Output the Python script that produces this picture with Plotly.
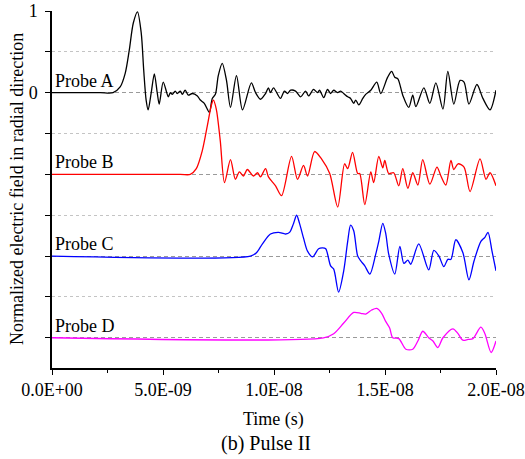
import plotly.graph_objects as go

# ---- data (time in ns, normalized field) ----
probe_a_t = [0, 2.17, 2.75, 3.07, 3.30, 3.48, 3.66, 3.85, 4.02, 4.13, 4.24, 4.33, 4.47, 4.61, 4.74, 4.83,
             5.01, 5.24, 5.33, 5.42, 5.55, 5.64, 5.78, 5.87, 6.00, 6.14, 6.32, 6.55, 6.68, 6.86, 7.09,
             7.22, 7.36, 7.49, 7.67, 7.86, 8.04, 8.31, 8.58, 8.98, 9.17, 9.39, 9.62, 9.75, 9.84, 9.98,
             10.29, 10.47, 10.61, 10.75, 10.97, 11.20, 11.42, 11.56, 11.78, 11.96, 12.05, 12.24, 12.41,
             12.55, 12.69, 12.87, 13.00, 13.14, 13.32, 13.45, 13.59, 13.68, 13.82, 14.00, 14.13, 14.36,
             14.63, 14.81, 15.12, 15.30, 15.44, 15.58, 15.80, 16.07, 16.25, 16.39, 16.75, 17.02, 17.29,
             17.61, 17.83, 18.10, 18.38, 18.56, 18.78, 19.14, 19.41, 19.73, 20.0]
probe_a_v = [0, 0, 0.0, 0.07, 0.24, 0.52, 0.85, 0.99, 0.73, 0.28, -0.09, -0.21, 0.0, 0.23, 0.0, -0.14,
             0.13, -0.05, 0.0, -0.02, 0.02, -0.01, 0.02, -0.02, 0.03, -0.03, -0.01, -0.04, -0.09, -0.13, -0.24,
             -0.07, -0.02, 0.21, 0.36, 0.15, -0.18, 0.21, -0.21, 0.12, 0.0, -0.08, -0.01, 0.06, 0.0, 0.06,
             -0.07, 0.02, -0.01, 0.03, 0.02, -0.05, 0.02, -0.04, 0.04, 0.0, 0.03, -0.06, 0.04,
             -0.01, 0.03, 0.0, 0.02, -0.01, -0.05, -0.07, -0.13, -0.09, -0.15, -0.07, -0.02, 0.03,
             0.13, -0.01, 0.19, 0.26, 0.19, 0.17, -0.03, -0.18, -0.03, -0.17, 0.06, -0.13, 0.12,
             -0.20, 0.26, -0.14, 0.15, 0.13, -0.14, 0.10, -0.07, -0.21, 0.03]

probe_b_t = [0, 5.78, 6.23, 6.50, 6.77, 7.00, 7.18, 7.27, 7.40, 7.58, 7.77, 8.04, 8.26, 8.44, 8.62, 8.80,
             9.07, 9.26, 9.39, 9.62, 9.75, 10.07, 10.34, 10.79, 11.06, 11.33, 11.51, 11.83, 12.14, 12.51,
             12.87, 13.18, 13.32, 13.54, 13.77, 13.86, 14.09, 14.36, 14.49, 14.72, 14.90, 14.99, 15.17,
             15.39, 15.62, 15.80, 16.03, 16.25, 16.48, 16.70, 17.02, 17.34, 17.52, 17.74, 17.97, 18.10,
             18.29, 18.56, 18.83, 19.28, 19.55, 19.73, 20.0]
probe_b_v = [0, 0, 0.0, 0.07, 0.29, 0.60, 0.85, 0.91, 0.80, 0.41, -0.10, 0.18, -0.06, 0.03, -0.02, 0.06,
             -0.02, 0.02, -0.03, 0.07, -0.03, -0.14, -0.26, 0.22, -0.06, 0.11, -0.02, 0.28, 0.19, 0.01,
             -0.40, 0.13, 0.07, 0.27, 0.01, 0.01, -0.37, 0.03, -0.10, 0.22, 0.08, 0.17, 0.01,
             0.02, -0.14, 0.07, -0.17, 0.02, -0.13, 0.18, -0.12, 0.09, -0.02, -0.13, 0.17, 0.06,
             0.13, 0.09, -0.21, 0.19, -0.06, 0.02, -0.14]

probe_c_t = [0, 8.94, 9.21, 9.48, 9.84, 10.20, 10.52, 10.70, 10.88, 11.02, 11.15, 11.33, 11.51, 11.74,
             12.01, 12.19, 12.33, 12.55, 12.69, 12.91, 13.14, 13.32, 13.45, 13.59, 13.77, 13.91, 14.09,
             14.32, 14.58, 14.72, 14.90, 15.03, 15.17, 15.44, 15.67, 15.85, 16.03, 16.16, 16.52, 16.97,
             17.20, 17.43, 17.65, 17.83, 17.97, 18.19, 18.51, 18.78, 19.01, 19.32, 19.50, 19.64, 19.82, 20.0]
probe_c_v = [0, 0, 0.04, 0.15, 0.27, 0.29, 0.27, 0.29, 0.40, 0.50, 0.40, 0.22, 0.06, -0.01,
             0.09, 0.10, 0.09, -0.12, -0.16, -0.44, -0.18, 0.18, 0.38, 0.31, 0.0, -0.06, -0.12,
             -0.22, 0.02, 0.18, 0.40, 0.28, 0.02, -0.22, 0.12, -0.09, -0.05, -0.10, 0.15, -0.17,
             0.07, 0.0, -0.13, -0.04, -0.04, 0.20, 0.04, -0.29, -0.06, 0.18, 0.23, 0.29, 0.06, -0.18]

probe_d_t = [0, 12.23, 12.69, 13.14, 13.59, 13.91, 14.13, 14.40, 14.63, 14.85, 15.03, 15.21, 15.35, 15.62,
             15.94, 16.25, 16.48, 16.70, 16.97, 17.16, 17.38, 17.61, 18.06, 18.29, 18.51, 18.74, 18.96,
             19.32, 19.50, 19.78, 20.0]
probe_d_v = [0, 0, 0.05, 0.18, 0.31, 0.30, 0.29, 0.34, 0.36, 0.30, 0.20, 0.12, 0.0, -0.01,
             -0.14, -0.14, -0.04, 0.08, 0.0, -0.04, -0.12, 0.0, 0.11, 0.05, -0.03, -0.02, -0.01,
             0.13, 0.05, -0.18, -0.04]

probe_names = ["Probe A", "Probe B", "Probe C", "Probe D"]
offsets = [0, -1, -2, -3]
colors = ["#000000", "#ff0000", "#0000ff", "#ff00ff"]

x_tickvals = [0, 5e-9, 1e-8, 1.5e-8, 2e-8]
x_ticktext = ["0.0E+00", "5.0E-09", "1.0E-08", "1.5E-08", "2.0E-08"]
y_tickvals = [1, 0, -1, -2, -3]
y_ticktext = ["1", "0", "", "", ""]
y_minor_vals = [0.5, -0.5, -1.5, -2.5]

FONT = "Liberation Serif, Times New Roman, serif"

fig = go.Figure()
series = [(probe_a_t, probe_a_v), (probe_b_t, probe_b_v), (probe_c_t, probe_c_v), (probe_d_t, probe_d_v)]
for (t, v), off, col, name in zip(series, offsets, colors, probe_names):
    fig.add_trace(go.Scatter(
        x=[ti * 1e-9 for ti in t], y=[vi + off for vi in v],
        mode="lines", line=dict(color=col, width=1.3, shape="spline", smoothing=0.8),
        name=name, showlegend=False, hoverinfo="skip"))
    fig.add_annotation(x=0, y=off, xref="x", yref="y", text=name, showarrow=False,
                       xanchor="left", yanchor="middle", xshift=1, yshift=12,
                       font=dict(family=FONT, size=18, color="black"))

fig.add_annotation(x=0.499, y=-0.143, xref="paper", yref="paper", text="Time (s)", showarrow=False,
                   xanchor="center", yanchor="middle", font=dict(family=FONT, size=18, color="black"))
fig.add_annotation(x=0.483, y=-0.212, xref="paper", yref="paper", text="(b) Pulse II", showarrow=False,
                   xanchor="center", yanchor="middle", font=dict(family=FONT, size=20, color="black"))
fig.add_annotation(x=-0.079, y=0.501, xref="paper", yref="paper",
                   text="Normalized electric field in radial direction", showarrow=False, textangle=-90,
                   xanchor="center", yanchor="middle", font=dict(family=FONT, size=18, color="black"))

fig.update_layout(
    width=525, height=459,
    margin=dict(l=52, r=29, t=11, b=91, autoexpand=False),
    paper_bgcolor="white", plot_bgcolor="white",
    font=dict(family=FONT, size=18, color="black"),
    xaxis=dict(range=[0, 2e-8], tickmode="array", tickvals=x_tickvals, ticktext=x_ticktext,
               automargin=False,
               showgrid=False, zeroline=False, showline=True, linecolor="black", linewidth=1.5,
               ticks="outside", ticklen=5, tickwidth=1.2, tickcolor="black",
               tickfont=dict(family=FONT, size=18, color="black"),
               minor=dict(tickmode="array", tickvals=[2.5e-9, 7.5e-9, 1.25e-8, 1.75e-8],
                          ticks="outside", ticklen=3, tickwidth=1.2, tickcolor="black", showgrid=False)),
    yaxis=dict(range=[-3.37, 1.0], tickmode="array", tickvals=y_tickvals, ticktext=y_ticktext,
               automargin=False,
               showgrid=True, gridcolor="#9a9a9a", gridwidth=1.2, griddash="4px,3px",
               zeroline=False, showline=True, linecolor="black", linewidth=1.5,
               ticks="outside", ticklen=5, tickwidth=1.2, tickcolor="black",
               tickfont=dict(family=FONT, size=18, color="black"), ticklabelstandoff=4,
               minor=dict(tickmode="array", tickvals=y_minor_vals, ticks="outside", ticklen=5,
                          tickwidth=1.2, tickcolor="black", showgrid=True, gridcolor="#c4c4c4",
                          gridwidth=1, griddash="dot")),
)

fig.write_html("out.html", config={"displayModeBar": False},
               post_script="document.body.style.margin='0';document.body.style.overflow='hidden';")
